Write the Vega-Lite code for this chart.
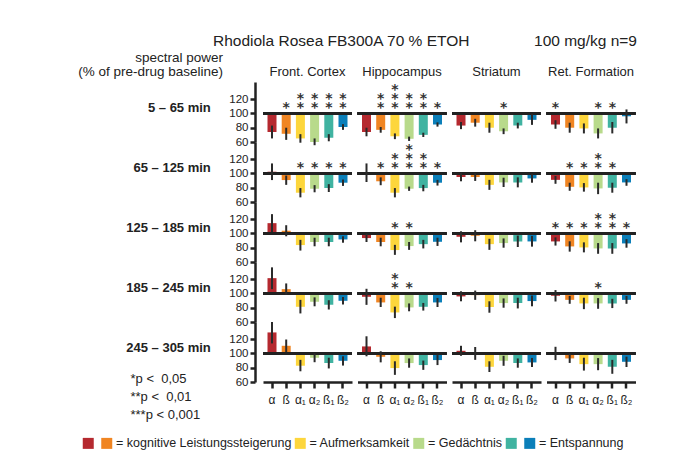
{
  "$schema": "https://vega.github.io/schema/vega-lite/v6.json",
  "padding": {"left": 78, "top": 33, "right": 5, "bottom": 5},
  "background": "white",
  "title": {"text": ["spectral power", "(% of pre-drug baseline)"], "anchor": "start", "align": "right", "frame": "group", "dx": -40, "dy": 45, "offset": 0, "fontSize": 13.5, "fontWeight": "normal", "font": "Liberation Sans, Arial, sans-serif", "lineHeight": 14, "color": "#222"},
  "data": {"values": [
    {"t": "5 – 65 min", "r": "Front. Cortex", "b": "α", "v": 74, "lo": 65, "hi": 83, "s": null},
    {"t": "5 – 65 min", "r": "Front. Cortex", "b": "ß", "v": 71.5, "lo": 63, "hi": 80, "s": 1},
    {"t": "5 – 65 min", "r": "Front. Cortex", "b": "α₁", "v": 65, "lo": 59, "hi": 71, "s": 2},
    {"t": "5 – 65 min", "r": "Front. Cortex", "b": "α₂", "v": 60, "lo": 55.5, "hi": 65, "s": 2},
    {"t": "5 – 65 min", "r": "Front. Cortex", "b": "ß₁", "v": 66, "lo": 61, "hi": 71, "s": 2},
    {"t": "5 – 65 min", "r": "Front. Cortex", "b": "ß₂", "v": 81, "lo": 77, "hi": 85, "s": 2},
    {"t": "5 – 65 min", "r": "Hippocampus", "b": "α", "v": 74, "lo": 68, "hi": 80, "s": null},
    {"t": "5 – 65 min", "r": "Hippocampus", "b": "ß", "v": 77, "lo": 73, "hi": 81, "s": 2},
    {"t": "5 – 65 min", "r": "Hippocampus", "b": "α₁", "v": 68, "lo": 64, "hi": 72, "s": 3},
    {"t": "5 – 65 min", "r": "Hippocampus", "b": "α₂", "v": 64.5, "lo": 61.5, "hi": 67.5, "s": 2},
    {"t": "5 – 65 min", "r": "Hippocampus", "b": "ß₁", "v": 70, "lo": 67, "hi": 73, "s": 2},
    {"t": "5 – 65 min", "r": "Hippocampus", "b": "ß₂", "v": 84.5, "lo": 81.5, "hi": 87.5, "s": 1},
    {"t": "5 – 65 min", "r": "Striatum", "b": "α", "v": 83, "lo": 78, "hi": 88, "s": null},
    {"t": "5 – 65 min", "r": "Striatum", "b": "ß", "v": 87, "lo": 81.5, "hi": 92.5, "s": null},
    {"t": "5 – 65 min", "r": "Striatum", "b": "α₁", "v": 80, "lo": 73, "hi": 87, "s": null},
    {"t": "5 – 65 min", "r": "Striatum", "b": "α₂", "v": 75, "lo": 71, "hi": 79, "s": 1},
    {"t": "5 – 65 min", "r": "Striatum", "b": "ß₁", "v": 83, "lo": 79, "hi": 87, "s": null},
    {"t": "5 – 65 min", "r": "Striatum", "b": "ß₂", "v": 91, "lo": 84, "hi": 99, "s": null},
    {"t": "5 – 65 min", "r": "Ret. Formation", "b": "α", "v": 84.5, "lo": 78.5, "hi": 90.5, "s": 1},
    {"t": "5 – 65 min", "r": "Ret. Formation", "b": "ß", "v": 80, "lo": 73, "hi": 87, "s": null},
    {"t": "5 – 65 min", "r": "Ret. Formation", "b": "α₁", "v": 79, "lo": 72, "hi": 86, "s": null},
    {"t": "5 – 65 min", "r": "Ret. Formation", "b": "α₂", "v": 72, "lo": 65, "hi": 79, "s": 1},
    {"t": "5 – 65 min", "r": "Ret. Formation", "b": "ß₁", "v": 80, "lo": 72, "hi": 88, "s": 1},
    {"t": "5 – 65 min", "r": "Ret. Formation", "b": "ß₂", "v": 96, "lo": 86, "hi": 105.6, "s": null},

    {"t": "65 – 125 min", "r": "Front. Cortex", "b": "α", "v": 102.4, "lo": 90.7, "hi": 114, "s": null},
    {"t": "65 – 125 min", "r": "Front. Cortex", "b": "ß", "v": 90.7, "lo": 84, "hi": 97, "s": null},
    {"t": "65 – 125 min", "r": "Front. Cortex", "b": "α₁", "v": 73, "lo": 66.5, "hi": 79.5, "s": 1},
    {"t": "65 – 125 min", "r": "Front. Cortex", "b": "α₂", "v": 78.6, "lo": 73.6, "hi": 83.6, "s": 1},
    {"t": "65 – 125 min", "r": "Front. Cortex", "b": "ß₁", "v": 79.5, "lo": 74, "hi": 85, "s": 1},
    {"t": "65 – 125 min", "r": "Front. Cortex", "b": "ß₂", "v": 87, "lo": 82.5, "hi": 91.5, "s": 1},
    {"t": "65 – 125 min", "r": "Hippocampus", "b": "α", "v": 100.5, "lo": 88, "hi": 114, "s": null},
    {"t": "65 – 125 min", "r": "Hippocampus", "b": "ß", "v": 89, "lo": 83.5, "hi": 94.5, "s": 1},
    {"t": "65 – 125 min", "r": "Hippocampus", "b": "α₁", "v": 73, "lo": 66.5, "hi": 79.5, "s": 2},
    {"t": "65 – 125 min", "r": "Hippocampus", "b": "α₂", "v": 78.6, "lo": 75.6, "hi": 81.6, "s": 3},
    {"t": "65 – 125 min", "r": "Hippocampus", "b": "ß₁", "v": 79.5, "lo": 75, "hi": 84, "s": 2},
    {"t": "65 – 125 min", "r": "Hippocampus", "b": "ß₂", "v": 87, "lo": 83, "hi": 91, "s": 1},
    {"t": "65 – 125 min", "r": "Striatum", "b": "α", "v": 95, "lo": 89, "hi": 101, "s": null},
    {"t": "65 – 125 min", "r": "Striatum", "b": "ß", "v": 95, "lo": 89.5, "hi": 100.5, "s": null},
    {"t": "65 – 125 min", "r": "Striatum", "b": "α₁", "v": 84, "lo": 77, "hi": 91, "s": null},
    {"t": "65 – 125 min", "r": "Striatum", "b": "α₂", "v": 87.4, "lo": 81, "hi": 94, "s": null},
    {"t": "65 – 125 min", "r": "Striatum", "b": "ß₁", "v": 87.4, "lo": 80.5, "hi": 94.5, "s": null},
    {"t": "65 – 125 min", "r": "Striatum", "b": "ß₂", "v": 93, "lo": 87, "hi": 99, "s": null},
    {"t": "65 – 125 min", "r": "Ret. Formation", "b": "α", "v": 91, "lo": 85.5, "hi": 96.5, "s": null},
    {"t": "65 – 125 min", "r": "Ret. Formation", "b": "ß", "v": 81.3, "lo": 75.7, "hi": 87, "s": 1},
    {"t": "65 – 125 min", "r": "Ret. Formation", "b": "α₁", "v": 80.4, "lo": 74.5, "hi": 86.5, "s": 1},
    {"t": "65 – 125 min", "r": "Ret. Formation", "b": "α₂", "v": 79, "lo": 71, "hi": 87, "s": 2},
    {"t": "65 – 125 min", "r": "Ret. Formation", "b": "ß₁", "v": 80, "lo": 73, "hi": 87, "s": 1},
    {"t": "65 – 125 min", "r": "Ret. Formation", "b": "ß₂", "v": 87.4, "lo": 82.7, "hi": 92, "s": null},

    {"t": "125 – 185 min", "r": "Front. Cortex", "b": "α", "v": 114.4, "lo": 102, "hi": 127, "s": null},
    {"t": "125 – 185 min", "r": "Front. Cortex", "b": "ß", "v": 103.8, "lo": 96, "hi": 111.5, "s": null},
    {"t": "125 – 185 min", "r": "Front. Cortex", "b": "α₁", "v": 83.7, "lo": 76, "hi": 91, "s": null},
    {"t": "125 – 185 min", "r": "Front. Cortex", "b": "α₂", "v": 88, "lo": 82, "hi": 94, "s": null},
    {"t": "125 – 185 min", "r": "Front. Cortex", "b": "ß₁", "v": 88, "lo": 82, "hi": 94, "s": null},
    {"t": "125 – 185 min", "r": "Front. Cortex", "b": "ß₂", "v": 91.6, "lo": 87, "hi": 96, "s": null},
    {"t": "125 – 185 min", "r": "Hippocampus", "b": "α", "v": 93.5, "lo": 88, "hi": 99.5, "s": null},
    {"t": "125 – 185 min", "r": "Hippocampus", "b": "ß", "v": 88, "lo": 82, "hi": 94, "s": null},
    {"t": "125 – 185 min", "r": "Hippocampus", "b": "α₁", "v": 76.7, "lo": 70, "hi": 84, "s": 1},
    {"t": "125 – 185 min", "r": "Hippocampus", "b": "α₂", "v": 82.3, "lo": 77, "hi": 88, "s": 1},
    {"t": "125 – 185 min", "r": "Hippocampus", "b": "ß₁", "v": 85, "lo": 79, "hi": 91, "s": null},
    {"t": "125 – 185 min", "r": "Hippocampus", "b": "ß₂", "v": 88.3, "lo": 82.5, "hi": 94, "s": null},
    {"t": "125 – 185 min", "r": "Striatum", "b": "α", "v": 95.3, "lo": 87.5, "hi": 103, "s": null},
    {"t": "125 – 185 min", "r": "Striatum", "b": "ß", "v": 96.7, "lo": 89, "hi": 104.5, "s": null},
    {"t": "125 – 185 min", "r": "Striatum", "b": "α₁", "v": 85, "lo": 77, "hi": 92.5, "s": null},
    {"t": "125 – 185 min", "r": "Striatum", "b": "α₂", "v": 86.5, "lo": 80, "hi": 93, "s": null},
    {"t": "125 – 185 min", "r": "Striatum", "b": "ß₁", "v": 88.8, "lo": 81, "hi": 97, "s": null},
    {"t": "125 – 185 min", "r": "Striatum", "b": "ß₂", "v": 88.8, "lo": 81.5, "hi": 96.5, "s": null},
    {"t": "125 – 185 min", "r": "Ret. Formation", "b": "α", "v": 88.8, "lo": 83, "hi": 94.5, "s": 1},
    {"t": "125 – 185 min", "r": "Ret. Formation", "b": "ß", "v": 81.8, "lo": 74.5, "hi": 89, "s": 1},
    {"t": "125 – 185 min", "r": "Ret. Formation", "b": "α₁", "v": 80.4, "lo": 73.5, "hi": 87.5, "s": 1},
    {"t": "125 – 185 min", "r": "Ret. Formation", "b": "α₂", "v": 79, "lo": 71.5, "hi": 86.5, "s": 2},
    {"t": "125 – 185 min", "r": "Ret. Formation", "b": "ß₁", "v": 79, "lo": 71.5, "hi": 86.5, "s": 2},
    {"t": "125 – 185 min", "r": "Ret. Formation", "b": "ß₂", "v": 86, "lo": 80, "hi": 92, "s": 1},

    {"t": "185 – 245 min", "r": "Front. Cortex", "b": "α", "v": 121.4, "lo": 106, "hi": 136.5, "s": null},
    {"t": "185 – 245 min", "r": "Front. Cortex", "b": "ß", "v": 106, "lo": 98, "hi": 114, "s": null},
    {"t": "185 – 245 min", "r": "Front. Cortex", "b": "α₁", "v": 81.3, "lo": 72, "hi": 91, "s": null},
    {"t": "185 – 245 min", "r": "Front. Cortex", "b": "α₂", "v": 88.3, "lo": 82, "hi": 94.5, "s": null},
    {"t": "185 – 245 min", "r": "Front. Cortex", "b": "ß₁", "v": 84, "lo": 77.5, "hi": 90.5, "s": null},
    {"t": "185 – 245 min", "r": "Front. Cortex", "b": "ß₂", "v": 89.7, "lo": 84.5, "hi": 95, "s": null},
    {"t": "185 – 245 min", "r": "Hippocampus", "b": "α", "v": 95.3, "lo": 84, "hi": 106.5, "s": null},
    {"t": "185 – 245 min", "r": "Hippocampus", "b": "ß", "v": 87.4, "lo": 81, "hi": 94, "s": null},
    {"t": "185 – 245 min", "r": "Hippocampus", "b": "α₁", "v": 73.4, "lo": 65.5, "hi": 81.5, "s": 2},
    {"t": "185 – 245 min", "r": "Hippocampus", "b": "α₂", "v": 80.4, "lo": 75, "hi": 86, "s": 1},
    {"t": "185 – 245 min", "r": "Hippocampus", "b": "ß₁", "v": 81.3, "lo": 76, "hi": 86.7, "s": null},
    {"t": "185 – 245 min", "r": "Hippocampus", "b": "ß₂", "v": 87.4, "lo": 81, "hi": 93.7, "s": null},
    {"t": "185 – 245 min", "r": "Striatum", "b": "α", "v": 95.8, "lo": 89, "hi": 103, "s": null},
    {"t": "185 – 245 min", "r": "Striatum", "b": "ß", "v": 97.6, "lo": 91, "hi": 104, "s": null},
    {"t": "185 – 245 min", "r": "Striatum", "b": "α₁", "v": 81, "lo": 73, "hi": 89, "s": null},
    {"t": "185 – 245 min", "r": "Striatum", "b": "α₂", "v": 86.5, "lo": 80, "hi": 93, "s": null},
    {"t": "185 – 245 min", "r": "Striatum", "b": "ß₁", "v": 86.5, "lo": 79, "hi": 94, "s": null},
    {"t": "185 – 245 min", "r": "Striatum", "b": "ß₂", "v": 89.3, "lo": 82, "hi": 97, "s": null},
    {"t": "185 – 245 min", "r": "Ret. Formation", "b": "α", "v": 96.7, "lo": 88.7, "hi": 104.7, "s": null},
    {"t": "185 – 245 min", "r": "Ret. Formation", "b": "ß", "v": 91, "lo": 85.5, "hi": 96.5, "s": null},
    {"t": "185 – 245 min", "r": "Ret. Formation", "b": "α₁", "v": 86, "lo": 78, "hi": 94, "s": null},
    {"t": "185 – 245 min", "r": "Ret. Formation", "b": "α₂", "v": 86, "lo": 78.5, "hi": 93.5, "s": 1},
    {"t": "185 – 245 min", "r": "Ret. Formation", "b": "ß₁", "v": 86, "lo": 79.5, "hi": 92.5, "s": null},
    {"t": "185 – 245 min", "r": "Ret. Formation", "b": "ß₂", "v": 91, "lo": 85.5, "hi": 96.5, "s": null},

    {"t": "245 – 305 min", "r": "Front. Cortex", "b": "α", "v": 129.4, "lo": 114, "hi": 144, "s": null},
    {"t": "245 – 305 min", "r": "Front. Cortex", "b": "ß", "v": 110.7, "lo": 102, "hi": 119.5, "s": null},
    {"t": "245 – 305 min", "r": "Front. Cortex", "b": "α₁", "v": 82.8, "lo": 75, "hi": 91, "s": null},
    {"t": "245 – 305 min", "r": "Front. Cortex", "b": "α₂", "v": 94, "lo": 87.7, "hi": 100.3, "s": null},
    {"t": "245 – 305 min", "r": "Front. Cortex", "b": "ß₁", "v": 86.5, "lo": 79, "hi": 94, "s": null},
    {"t": "245 – 305 min", "r": "Front. Cortex", "b": "ß₂", "v": 89.7, "lo": 83, "hi": 96, "s": null},
    {"t": "245 – 305 min", "r": "Hippocampus", "b": "α", "v": 109.8, "lo": 96, "hi": 124, "s": null},
    {"t": "245 – 305 min", "r": "Hippocampus", "b": "ß", "v": 95.3, "lo": 87.5, "hi": 103, "s": null},
    {"t": "245 – 305 min", "r": "Hippocampus", "b": "α₁", "v": 79.5, "lo": 70, "hi": 89, "s": null},
    {"t": "245 – 305 min", "r": "Hippocampus", "b": "α₂", "v": 86.5, "lo": 80, "hi": 93, "s": null},
    {"t": "245 – 305 min", "r": "Hippocampus", "b": "ß₁", "v": 83.7, "lo": 77, "hi": 90, "s": null},
    {"t": "245 – 305 min", "r": "Hippocampus", "b": "ß₂", "v": 90.7, "lo": 83.7, "hi": 97.7, "s": null},
    {"t": "245 – 305 min", "r": "Striatum", "b": "α", "v": 103.7, "lo": 96.7, "hi": 110.7, "s": null},
    {"t": "245 – 305 min", "r": "Striatum", "b": "ß", "v": 100, "lo": 91, "hi": 109, "s": null},
    {"t": "245 – 305 min", "r": "Striatum", "b": "α₁", "v": 81.3, "lo": 74, "hi": 89, "s": null},
    {"t": "245 – 305 min", "r": "Striatum", "b": "α₂", "v": 89.7, "lo": 82.7, "hi": 96.7, "s": null},
    {"t": "245 – 305 min", "r": "Striatum", "b": "ß₁", "v": 86.5, "lo": 80, "hi": 93, "s": null},
    {"t": "245 – 305 min", "r": "Striatum", "b": "ß₂", "v": 87.4, "lo": 81, "hi": 93.7, "s": null},
    {"t": "245 – 305 min", "r": "Ret. Formation", "b": "α", "v": 100, "lo": 90.7, "hi": 109.3, "s": null},
    {"t": "245 – 305 min", "r": "Ret. Formation", "b": "ß", "v": 93, "lo": 86.7, "hi": 99.3, "s": null},
    {"t": "245 – 305 min", "r": "Ret. Formation", "b": "α₁", "v": 85, "lo": 76, "hi": 94, "s": null},
    {"t": "245 – 305 min", "r": "Ret. Formation", "b": "α₂", "v": 85, "lo": 76.5, "hi": 93.5, "s": null},
    {"t": "245 – 305 min", "r": "Ret. Formation", "b": "ß₁", "v": 81.3, "lo": 71.5, "hi": 91, "s": null},
    {"t": "245 – 305 min", "r": "Ret. Formation", "b": "ß₂", "v": 88.3, "lo": 81, "hi": 95.5, "s": null}
  ]},
  "facet": {
    "row": {"field": "t", "type": "nominal", "sort": ["5 – 65 min", "65 – 125 min", "125 – 185 min", "185 – 245 min", "245 – 305 min"],
      "header": {"title": null, "labelOrient": "left", "labelAngle": 0, "labelAlign": "left", "labelBaseline": "alphabetic", "labelFontWeight": "bold", "labelFontSize": 13, "labelPadding": 18, "labelFont": "Liberation Sans, Arial, sans-serif", "labelColor": "#222"}},
    "column": {"field": "r", "type": "nominal", "sort": ["Front. Cortex", "Hippocampus", "Striatum", "Ret. Formation"],
      "header": {"title": "Rhodiola Rosea FB300A 70 % ETOH\u00a0\u00a0\u00a0\u00a0\u00a0\u00a0\u00a0\u00a0\u00a0\u00a0\u00a0\u00a0\u00a0\u00a0\u00a0100 mg/kg n=9", "titleAnchor": "end", "titleFontSize": 15.5, "titleFontWeight": "normal", "titlePadding": 7, "titleFont": "Liberation Sans, Arial, sans-serif", "titleColor": "#222", "labelFontSize": 13, "labelPadding": 3, "labelFont": "Liberation Sans, Arial, sans-serif", "labelColor": "#222"}}
  },
  "spacing": {"row": 0, "column": 5.5},
  "bounds": "flush",
  "spec": {
    "width": 89,
    "height": 60,
    "layer": [
      {
        "mark": {"type": "bar"},
        "encoding": {
          "x": {"field": "b", "type": "nominal", "sort": ["α", "ß", "α₁", "α₂", "ß₁", "ß₂"], "title": null,
            "scale": {"paddingInner": 0.366, "paddingOuter": 0.317},
            "axis": {"domainColor": "#222", "domainWidth": 2.5, "tickColor": "#222", "tickWidth": 2.5, "tickSize": 6, "labelAngle": 0, "labelFontSize": 12, "labelPadding": 6, "labelFont": "Liberation Sans, Arial, sans-serif", "labelColor": "#222"}},
          "y": {"field": "v", "type": "quantitative", "title": null,
            "scale": {"domain": [60, 144], "nice": false, "zero": false},
            "axis": {"values": [60, 80, 100, 120], "offset": 8, "labelOverlap": false, "labelSeparation": -30, "labelBound": false, "labelFlush": false, "domainColor": "#222", "domainWidth": 2.5, "tickColor": "#222", "tickWidth": 2.5, "tickSize": 5, "labelFontSize": 11.5, "labelPadding": 2, "labelFont": "Liberation Sans, Arial, sans-serif", "labelColor": "#222", "grid": false}},
          "y2": {"datum": 100},
          "color": {"field": "b", "type": "nominal",
            "scale": {"domain": ["α", "ß", "α₁", "α₂", "ß₁", "ß₂"], "range": ["#b5292f", "#f08522", "#fdd63c", "#b8da8b", "#40b3a1", "#0b7fb9"]},
            "legend": {"orient": "none", "legendX": -181, "legendY": 355, "direction": "horizontal", "title": null, "symbolType": "square", "symbolSize": 121, "symbolStrokeWidth": 0, "labelOffset": 3, "columnPadding": 2.5, "labelFontSize": 12.5, "labelLimit": 300, "labelFont": "Liberation Sans, Arial, sans-serif", "labelColor": "#222",
              "labelExpr": "datum.label == 'ß' ? '= kognitive Leistungssteigerung' : datum.label == 'α₁' ? '= Aufmerksamkeit' : datum.label == 'α₂' ? '= Gedächtnis' : datum.label == 'ß₂' ? '= Entspannung' : ''"}}
        }
      },
      {
        "mark": {"type": "rule", "color": "#222", "strokeWidth": 2.5},
        "encoding": {"y": {"datum": 100, "axis": {"values": [60, 80, 100, 120], "labelOverlap": false, "labelSeparation": -30}}}
      },
      {
        "mark": {"type": "rule", "color": "#2a2a2a", "strokeWidth": 2},
        "encoding": {
          "x": {"field": "b", "type": "nominal", "sort": ["α", "ß", "α₁", "α₂", "ß₁", "ß₂"], "title": null},
          "y": {"field": "lo", "type": "quantitative", "title": null, "axis": {"values": [60, 80, 100, 120], "labelOverlap": false, "labelSeparation": -30}},
          "y2": {"field": "hi"}
        }
      },
      {
        "transform": [{"filter": "datum.s >= 1"}],
        "mark": {"type": "text", "baseline": "alphabetic", "dy": -1, "font": "DejaVu Sans", "fontSize": 14, "fontWeight": "bold", "color": "#333"},
        "encoding": {
          "x": {"field": "b", "type": "nominal", "sort": ["α", "ß", "α₁", "α₂", "ß₁", "ß₂"], "title": null},
          "y": {"datum": 100, "axis": {"values": [60, 80, 100, 120], "labelOverlap": false, "labelSeparation": -30}},
          "text": {"value": "*"},
          "opacity": {"field": "s", "type": "ordinal",
            "scale": {"type": "ordinal", "domain": [1, 2, 3], "range": [1, 1, 1]},
            "legend": {"orient": "none", "legendX": -145.5, "legendY": 290, "title": null, "symbolSize": 0, "symbolOpacity": 0, "symbolStrokeWidth": 0, "labelOffset": 0, "labelFontSize": 13, "rowPadding": 4, "labelFont": "Liberation Sans, Arial, sans-serif", "labelColor": "#222",
              "labelExpr": "datum.value == 1 ? '*p <\u00a0\u00a00,05' : datum.value == 2 ? '**p <\u00a0\u00a00,01' : '***p < 0,001'"}}
        }
      },
      {
        "transform": [{"filter": "datum.s >= 2"}],
        "mark": {"type": "text", "baseline": "alphabetic", "dy": -10, "font": "DejaVu Sans", "fontSize": 14, "fontWeight": "bold", "color": "#333"},
        "encoding": {
          "x": {"field": "b", "type": "nominal", "sort": ["α", "ß", "α₁", "α₂", "ß₁", "ß₂"], "title": null},
          "y": {"datum": 100, "axis": {"values": [60, 80, 100, 120], "labelOverlap": false, "labelSeparation": -30}},
          "text": {"value": "*"}
        }
      },
      {
        "transform": [{"filter": "datum.s >= 3"}],
        "mark": {"type": "text", "baseline": "alphabetic", "dy": -19, "font": "DejaVu Sans", "fontSize": 14, "fontWeight": "bold", "color": "#333"},
        "encoding": {
          "x": {"field": "b", "type": "nominal", "sort": ["α", "ß", "α₁", "α₂", "ß₁", "ß₂"], "title": null},
          "y": {"datum": 100, "axis": {"values": [60, 80, 100, 120], "labelOverlap": false, "labelSeparation": -30}},
          "text": {"value": "*"}
        }
      }
    ]
  },
  "config": {
    "view": {"stroke": null},
    "font": "Liberation Sans, Arial, sans-serif",
    "axis": {"labelOverlap": false},
    "axisY": {"labelOverlap": false},
    "axisQuantitative": {"labelOverlap": false}
  }
}
